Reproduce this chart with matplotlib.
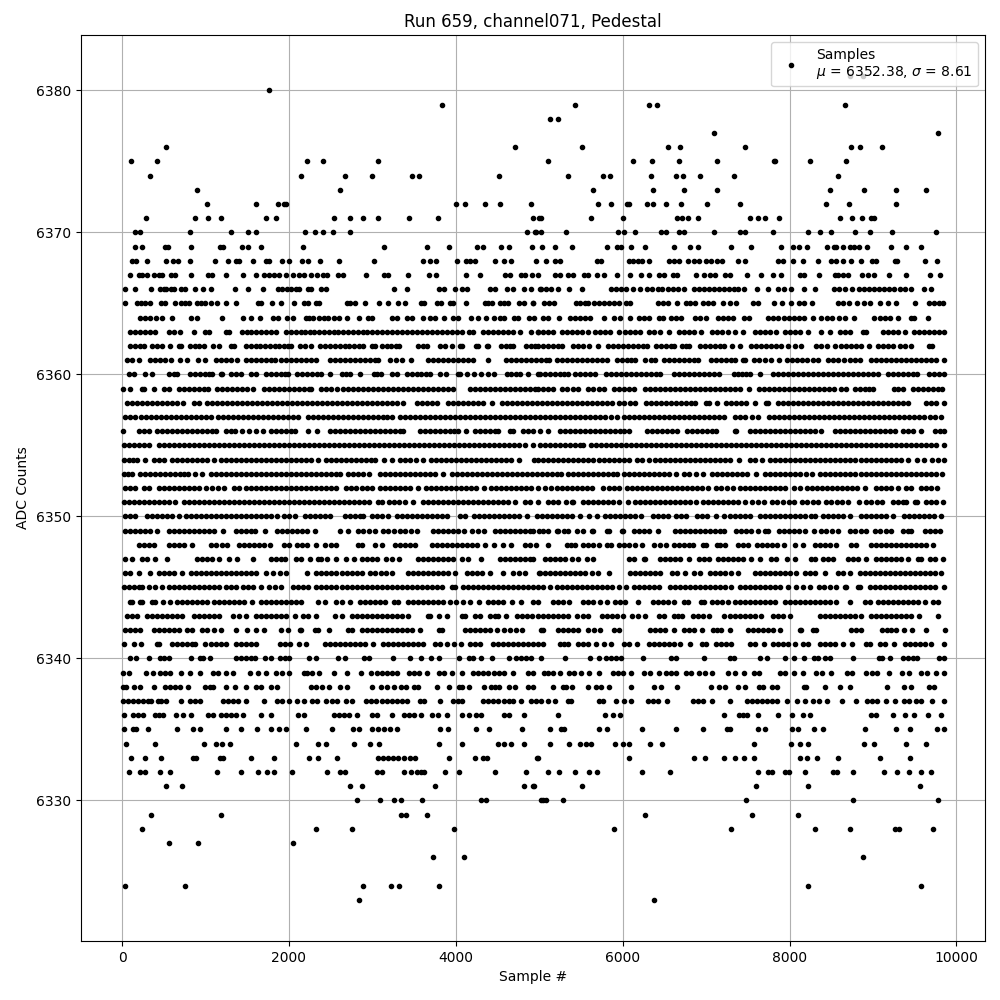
import matplotlib
matplotlib.use("Agg")
import matplotlib.pyplot as plt

# Sample numbers, in units of ten samples, one list per ADC level
r6381 = [872,888]
r6380 = [176]
r6379 = [383,543,632,641,867]
r6378 = [513,523]
r6377 = [709,978]
r6376 = [53,471,551,654,669,747,874,884,911]
r6375 = [11,42,222,241,307,511,612,635,667,713,781,783,824,868]
r6374 = [33,215,267,300,347,356,452,534,576,585,634,664,672,693,733,858]
r6373 = [90,261,564,636,674,713,849,889,927,964]
r6372 = [102,160,187,194,197,400,411,435,453,490,570,586,605,607,629,636,652,670,701,741,844,871,928]
r6371 = [29,87,103,119,172,184,254,273,289,307,344,379,492,500,502,562,600,665,671,678,690,753,762,771,787,860,875,887,897,901]
r6370 = [15,22,82,131,151,161,219,231,241,253,273,485,496,495,502,532,594,601,615,646,652,668,674,710,741,746,780,822,837,850,879,896,923,976]
r6369 = [16,24,51,55,83,117,121,144,151,167,217,314,366,392,425,433,454,464,491,503,519,539,581,593,598,610,627,661,681,690,730,754,790,804,811,821,845,853,856,864,873,877,883,893,921,940,958]
r6368 = [12,17,30,53,61,67,82,111,127,136,140,157,172,176,192,200,216,223,237,260,302,361,369,376,401,412,417,423,447,458,466,496,508,519,525,569,574,607,612,618,623,632,655,662,667,678,685,692,700,706,713,719,738,746,786,792,804,816,834,850,856,864,874,885,899,904,926,929,962,977]
r6367 = [10,20,24,30,38,44,48,59,64,83,103,108,125,145,161,170,176,182,188,197,205,212,218,227,234,241,246,259,265,292,314,319,343,368,376,412,429,459,465,478,483,491,498,519,525,534,540,554,559,569,577,593,609,622,632,644,649,660,665,688,698,705,711,723,729,749,766,780,790,812,817,835,854,858,864,870,887,894,901,919,939,968,980]
r6366 = [4,16,35,45,50,53,59,62,71,75,88,97,107,135,151,169,187,192,198,203,208,212,223,227,238,244,326,342,380,386,399,407,413,441,447,461,469,482,490,501,502,508,514,522,536,551,586,592,598,604,612,621,629,635,642,647,654,660,666,674,686,692,697,703,709,715,721,727,733,738,745,761,774,786,793,802,817,830,853,859,867,875,883,889,895,901,907,913,919,925,932,938,946,961,970]
r6365 = [3,18,23,28,33,47,51,64,71,76,80,90,95,100,106,114,125,137,163,167,180,191,206,218,223,233,236,269,273,279,291,308,319,331,339,358,362,378,382,393,397,412,435,439,443,453,458,463,476,482,492,493,506,512,518,544,549,555,559,566,572,578,584,590,595,604,609,642,648,654,665,676,681,687,696,702,708,720,729,736,756,762,781,791,802,811,817,827,858,864,871,881,889,896,908,918,927,950,967,973,979,984]
r6364 = [21,27,34,41,48,60,83,90,120,145,155,165,181,187,198,205,220,224,229,236,242,247,254,260,270,284,295,300,324,330,341,347,361,369,375,386,397,403,418,427,436,446,453,458,470,475,488,494,505,511,524,537,543,549,555,561,578,590,597,609,620,626,632,644,648,658,664,670,687,693,700,714,720,726,732,745,751,774,780,786,793,799,805,811,817,828,838,845,851,859,866,877,901,908,914,920,930,945,949,966]
r6363 = [10,16,22,28,34,40,56,62,70,86,100,104,124,128,144,150,155,161,167,173,179,185,197,202,208,214,219,225,230,236,242,248,254,259,265,271,277,283,289,294,300,306,312,318,324,330,336,342,348,354,360,366,372,378,384,390,396,402,407,416,420,433,439,445,451,457,463,469,477,490,498,499,505,511,517,527,533,539,545,551,559,567,573,579,585,595,603,609,615,621,631,637,645,655,667,673,679,685,694,707,713,719,726,735,744,758,764,770,776,784,794,800,806,812,822,838,848,860,866,873,888,892,912,918,924,930,938,949,955,961,967,973,979,985]
r6362 = [10,16,21,26,36,42,48,58,68,71,81,87,92,98,109,116,130,134,148,154,160,165,171,177,183,188,194,199,203,213,219,227,237,243,249,255,261,267,272,278,284,289,300,303,311,317,322,328,332,355,361,365,381,387,395,405,408,424,427,437,439,454,460,465,469,484,490,495,499,505,510,516,522,527,541,547,553,560,570,582,588,594,600,606,612,618,624,629,640,646,652,658,662,671,676,680,693,699,705,711,717,722,731,741,754,760,766,772,778,784,790,798,806,814,832,838,845,854,862,868,874,880,886,895,906,912,918,924,932,938,946,967,971]
r6361 = [6,12,20,33,39,45,52,59,70,78,91,100,112,118,124,130,138,148,154,160,166,172,178,183,191,197,203,209,215,221,227,233,249,255,261,267,273,279,285,291,297,303,307,321,328,335,346,367,373,379,385,391,397,403,409,415,421,438,460,466,472,478,484,490,496,502,508,512,521,527,533,539,545,551,557,563,569,575,581,593,599,605,610,615,627,634,639,649,655,661,667,673,679,685,690,706,712,718,724,730,734,744,746,757,763,770,778,787,797,803,809,815,821,828,834,846,852,858,865,872,878,884,898,904,910,916,922,928,934,940,946,952,958,964,970,976,985]
r6360 = [8,14,28,36,56,62,66,81,87,93,99,104,108,118,120,130,136,142,154,160,172,178,184,190,195,199,210,216,222,228,234,239,249,263,268,273,285,302,306,310,323,329,341,347,353,358,364,369,381,388,403,405,414,422,430,438,446,461,466,472,477,486,498,501,507,513,519,525,530,535,543,549,555,561,567,580,586,592,598,604,610,616,622,628,634,640,645,661,667,673,679,685,691,697,703,709,716,733,738,743,748,753,765,780,786,792,798,804,810,816,822,828,834,840,846,852,858,864,870,876,882,888,894,900,906,918,924,930,936,942,948,953,967,973,979,985]
r6359 = [1,9,24,26,38,50,56,68,74,80,86,92,98,103,114,120,126,132,138,144,150,157,170,176,182,188,194,200,206,212,218,224,227,238,245,251,258,265,271,277,283,289,295,301,307,313,319,325,331,337,343,349,355,361,367,373,379,385,391,397,417,423,429,435,441,447,453,459,465,471,477,483,489,495,499,505,511,517,527,533,541,547,559,565,571,577,589,595,601,607,614,627,633,639,645,651,657,663,669,675,681,687,693,699,705,711,717,723,729,735,741,751,763,769,775,781,787,793,799,805,811,817,823,829,835,841,847,853,862,868,878,884,890,895,900,925,930,936,948,954,960,966,972,978,983]
r6358 = [6,12,18,24,30,36,42,48,54,60,66,73,86,92,102,108,114,120,126,132,138,144,150,156,162,168,174,180,186,192,198,204,210,216,222,228,234,240,246,252,258,264,270,276,282,288,294,300,306,312,318,324,330,337,353,359,365,371,377,391,397,403,409,415,421,427,433,443,455,461,467,473,479,485,491,497,503,509,515,521,527,533,539,545,551,557,563,569,575,581,587,595,602,609,615,628,634,640,646,652,658,664,670,676,682,687,700,704,713,724,730,736,742,748,758,772,774,786,792,798,804,810,816,822,828,834,840,846,852,858,864,870,876,882,888,894,900,906,912,918,924,930,936,942,964,970,976,985]
r6357 = [4,10,16,23,29,35,41,47,53,59,65,71,77,83,89,95,101,106,115,121,127,133,139,145,151,157,163,169,175,181,187,193,199,205,211,223,229,235,241,247,253,259,265,271,277,283,289,295,301,307,313,318,323,333,339,345,351,357,363,369,375,381,387,393,399,405,411,417,423,429,435,441,447,453,459,465,471,477,483,489,495,501,507,513,519,525,531,537,543,549,555,561,567,573,579,586,593,601,607,613,619,625,631,637,643,649,655,661,667,673,679,685,691,697,703,709,716,722,735,741,747,755,762,775,781,787,793,799,805,811,817,823,829,835,841,847,853,859,865,871,877,883,889,895,901,907,913,919,925,931,937,943,949,955,961,968,974,982]
r6356 = [1,20,26,32,42,48,54,60,66,72,78,84,90,96,102,108,112,124,130,135,144,152,161,169,178,184,190,196,202,207,223,234,249,255,261,267,273,279,285,291,297,303,309,315,321,327,333,337,357,363,369,375,381,387,393,398,403,412,423,429,435,441,447,451,465,469,481,487,493,501,510,525,531,537,543,549,555,561,567,573,579,585,591,597,602,607,629,635,641,647,653,659,665,677,683,689,695,701,707,712,734,736,752,758,764,770,776,782,788,794,800,806,812,818,824,830,838,854,860,866,872,878,884,890,896,902,908,914,920,926,936,942,948,958,974,980,985]
r6355 = [2,8,14,20,26,32,44,50,56,62,68,74,80,86,92,98,104,110,116,122,128,134,140,146,152,158,164,170,176,182,188,194,200,206,212,218,224,230,236,242,248,254,260,266,272,278,284,290,296,302,308,314,320,326,332,338,344,350,356,362,368,374,380,386,392,398,404,410,416,422,428,434,440,446,452,458,464,470,476,483,492,501,507,513,519,525,531,537,543,549,553,562,568,574,580,586,592,598,604,610,616,622,628,634,640,646,652,658,664,670,676,682,688,694,700,706,712,718,724,730,736,742,748,754,760,766,772,778,784,790,796,802,808,814,820,826,832,838,844,850,856,862,868,874,880,886,892,898,904,910,916,922,928,934,940,946,952,958,964,970,976,985]
r6354 = [2,8,13,18,27,38,44,50,60,66,72,78,84,90,96,102,110,118,124,130,136,142,148,154,160,166,172,178,184,190,196,202,208,214,220,226,235,244,250,256,262,268,274,280,286,292,298,303,314,323,333,339,345,352,361,370,376,382,388,394,400,406,412,418,424,430,436,442,448,454,460,466,476,494,499,505,511,517,523,529,535,541,547,553,559,565,571,577,583,589,595,601,607,617,623,632,639,645,651,657,663,669,675,681,687,693,699,705,711,717,723,729,739,752,759,767,777,783,789,795,801,807,813,819,825,831,837,843,849,855,861,867,873,879,885,891,897,903,909,915,921,927,933,942,953,961,971,978,985]
r6353 = [2,7,12,21,27,33,39,45,51,57,63,69,74,79,88,96,106,112,118,124,130,136,142,148,154,160,166,172,178,184,190,196,202,208,214,220,226,232,238,244,250,256,261,271,277,283,289,296,309,315,321,327,333,339,345,351,357,363,369,375,385,395,401,407,413,419,425,431,437,443,449,455,461,467,473,479,485,491,497,503,509,515,521,526,534,540,546,552,558,564,570,576,582,588,593,602,608,614,620,626,632,638,644,650,656,664,674,680,688,696,707,713,719,725,731,737,743,749,760,770,776,782,788,794,800,806,812,820,827,837,843,849,855,861,867,873,879,885,891,897,903,909,915,921,927,933,939,945,951,957,963,969,975,983]
r6352 = [4,10,16,26,32,44,50,56,62,68,74,80,86,92,101,108,115,122,134,140,148,154,160,166,172,178,184,190,196,202,208,214,220,226,232,238,244,250,257,268,274,280,287,293,300,309,315,321,327,333,339,345,355,364,370,376,382,388,394,400,406,412,418,424,434,442,448,454,460,466,472,478,484,490,499,507,514,521,527,533,539,545,551,557,563,576,583,590,596,605,611,617,623,629,635,641,647,653,659,665,671,677,683,689,695,702,712,718,725,732,741,747,753,759,765,771,777,783,789,795,805,812,821,827,833,839,845,851,857,863,869,875,881,890,903,909,915,922,930,939,946,957,963,970,977]
r6351 = [2,8,14,20,26,32,38,44,50,56,64,74,80,86,92,98,104,110,116,122,128,134,140,146,152,158,164,170,176,182,188,194,200,206,212,218,224,230,236,242,248,254,260,266,272,278,284,290,296,307,312,320,326,332,339,349,361,367,373,379,385,391,397,403,409,415,421,427,433,439,445,451,457,463,471,483,489,499,511,517,523,532,539,541,552,558,564,570,576,582,588,595,606,615,621,627,633,639,645,651,657,663,669,675,681,688,696,702,708,714,720,726,732,738,746,755,762,769,779,785,792,799,805,815,821,828,834,844,850,857,863,870,883,892,898,905,911,924,930,936,940,950,953,963,969,975,984]
r6350 = [4,10,16,30,36,42,48,54,60,68,77,83,89,95,101,107,113,119,125,131,137,143,149,155,161,167,173,179,186,194,200,207,219,225,231,237,243,249,267,273,279,285,289,299,305,312,319,329,335,341,347,353,359,365,371,377,383,390,405,411,422,428,434,440,446,452,458,464,470,476,485,497,503,509,515,521,527,533,539,549,560,569,579,585,591,597,603,609,615,622,636,642,648,654,664,670,676,689,695,701,712,722,728,734,740,746,753,764,770,776,782,788,794,800,806,812,818,826,831,840,846,852,858,864,873,886,892,898,904,910,916,924,937,943,949,955,961,967,973,982]
r6349 = [4,10,16,22,28,34,42,56,62,68,74,80,86,92,98,104,110,121,136,142,148,154,159,171,186,192,198,204,210,216,222,231,261,271,283,289,296,303,313,319,326,333,339,346,354,373,379,385,391,397,403,410,419,426,434,447,453,459,465,471,477,483,489,492,500,505,511,521,523,530,534,545,553,563,565,581,583,599,600,613,619,625,632,642,663,669,675,681,687,693,699,705,711,717,722,736,742,748,754,762,770,774,787,793,799,805,811,818,829,838,844,851,858,873,879,885,891,902,908,915,922,936,942,946,962,968,974,980]
r6348 = [20,26,32,38,56,62,68,74,84,106,112,120,126,140,146,152,158,164,170,177,194,200,210,216,222,233,243,250,257,283,287,303,311,327,333,339,345,351,371,377,383,389,395,401,407,413,419,425,435,446,456,466,483,489,496,511,533,538,543,553,559,565,571,581,586,596,602,608,615,623,637,645,652,661,667,673,679,684,696,700,713,717,723,738,744,750,761,767,773,779,785,793,807,816,830,836,842,849,856,874,880,898,904,910,916,922,928,934,940,946,952,958,964,972]
r6347 = [4,12,24,30,39,54,90,96,102,108,116,128,138,157,178,184,190,195,209,215,225,235,239,246,256,268,278,287,293,299,305,316,324,332,355,361,367,373,379,385,391,397,408,415,430,453,459,465,471,477,483,489,492,507,513,519,525,531,539,546,557,565,607,613,625,627,645,651,657,663,669,679,691,698,704,714,720,726,732,738,744,754,764,778,784,797,807,826,830,840,846,852,870,876,882,892,904,910,916,922,928,934,942,954,958,968,974,984]
r6346 = [4,10,20,34,44,50,56,62,72,83,89,95,101,107,113,119,125,131,137,143,149,155,161,172,181,189,197,222,233,239,245,251,257,263,269,275,281,287,297,303,310,316,323,343,349,355,361,367,373,379,385,391,399,413,419,425,431,441,457,469,476,483,500,501,507,513,519,525,531,537,543,549,555,563,570,584,609,615,621,627,633,639,645,659,665,675,685,693,705,711,717,723,730,738,758,764,770,776,782,788,794,800,808,818,824,830,842,858,864,872,884,890,896,902,908,914,920,926,932,938,944,950,956,962,968,974,982]
r6345 = [2,8,14,20,24,32,40,48,56,62,68,74,80,86,92,98,104,110,116,124,130,136,145,151,157,167,176,183,191,205,211,217,223,233,239,245,251,257,263,269,275,281,287,293,299,305,311,317,323,329,335,341,347,353,359,365,371,377,383,395,399,409,415,421,427,433,439,445,451,457,463,469,475,481,487,493,499,505,513,521,527,533,539,545,551,557,563,569,575,581,587,595,604,613,619,625,631,637,644,657,663,669,675,681,687,693,699,705,711,717,723,730,740,746,752,758,764,770,776,782,788,798,808,816,824,835,841,848,856,866,868,882,884,896,902,908,914,920,926,932,938,944,950,956,962,968,974,985]
r6344 = [10,12,22,24,36,40,49,57,66,72,78,84,90,96,102,110,116,122,128,134,140,146,156,166,172,178,184,190,196,202,208,215,235,243,257,263,273,285,291,297,303,309,315,326,331,343,349,355,361,367,373,379,385,393,400,409,417,428,439,445,451,457,467,478,492,499,516,522,529,536,552,558,565,573,581,591,597,603,618,636,642,648,654,661,673,678,694,698,707,713,719,726,735,741,747,753,759,765,771,777,782,794,800,806,812,818,824,830,836,842,848,856,872,890,896,906,912,918,924,930,936,942,948,954,962,972,978]
r6343 = [6,12,18,30,36,42,48,54,60,66,72,86,92,98,104,110,116,133,140,149,160,166,172,178,184,190,196,207,217,223,232,255,263,275,281,287,293,299,305,311,317,323,329,335,343,367,369,380,390,407,411,423,429,441,447,451,460,473,479,485,491,499,505,511,517,523,529,535,545,552,559,575,581,587,593,600,611,618,627,643,649,661,666,671,684,690,696,704,722,728,734,740,746,752,758,766,780,786,792,800,836,842,848,854,860,866,872,879,886,898,904,910,916,922,928,934,940,946,955,978]
r6342 = [4,10,16,22,38,44,50,56,62,68,78,84,96,102,110,119,137,150,161,170,191,199,213,215,231,235,248,271,275,287,293,299,305,311,317,323,329,335,341,347,357,380,383,411,417,423,429,435,441,449,458,465,472,479,502,505,523,529,535,541,547,559,566,573,589,595,633,639,645,651,662,673,679,686,695,708,713,718,729,750,756,762,768,774,780,788,812,814,828,832,874,880,886,911,917,922,928,937,947,963,986]
r6341 = [2,14,23,42,44,60,66,72,78,84,88,100,106,112,118,124,136,142,148,154,160,189,195,201,212,220,243,249,255,261,267,273,279,285,291,301,313,319,325,331,337,343,349,355,361,375,381,389,398,406,417,423,429,445,451,457,463,469,475,481,487,493,499,505,525,530,535,547,553,559,568,578,586,601,607,617,631,637,643,649,655,661,669,681,695,700,712,718,724,730,752,758,769,780,786,792,798,806,816,822,836,842,848,854,864,875,892,896,908,914,925,938,944,950,956,962,970,985]
r6340 = [9,17,32,45,50,56,83,93,97,105,137,143,149,155,159,171,178,189,195,200,224,232,259,267,290,296,325,345,358,370,380,404,416,420,430,443,464,472,478,484,490,502,531,561,572,580,586,592,598,624,658,664,697,729,733,765,773,795,805,817,829,834,843,849,876,907,911,920,936,942,948,953,979,985]
r6339 = [1,8,29,37,45,51,58,71,82,94,109,115,125,133,153,163,173,184,192,200,218,222,228,236,254,270,286,298,306,312,318,324,330,344,350,356,366,380,386,396,408,420,426,432,438,446,452,458,468,486,492,506,511,516,525,536,542,550,560,571,588,594,600,610,626,633,644,652,658,664,676,682,691,699,707,726,735,745,757,763,789,795,805,816,832,839,850,869,875,891,899,905,919,935,943,957,965,975,985]
r6338 = [1,5,14,21,38,51,57,63,69,79,99,105,109,125,135,149,161,167,178,186,226,232,240,248,261,269,300,310,318,326,334,340,350,355,377,392,404,408,416,434,442,447,452,464,471,486,492,517,528,532,539,559,568,574,583,610,638,646,665,706,715,723,738,747,763,768,779,785,817,820,842,860,873,917,937,945,967,973]
r6337 = [1,7,13,19,25,31,35,43,47,53,71,81,87,93,121,127,133,139,149,170,186,192,200,210,218,228,234,244,252,258,268,276,292,298,304,312,318,324,330,336,342,357,362,381,397,403,408,432,438,444,450,458,464,469,478,490,496,502,510,519,534,538,572,576,592,602,610,630,636,642,653,684,690,696,707,729,749,755,761,767,773,779,785,797,809,818,828,835,845,863,880,893,899,905,915,926,937,943,951,957,971,985]
r6336 = [2,13,19,25,39,44,49,65,73,83,103,109,119,125,131,137,145,167,178,211,218,254,260,266,272,281,299,306,324,338,344,350,358,372,379,390,408,416,424,430,458,464,482,523,579,588,597,721,739,744,749,762,786,803,816,824,897,903,924,938,949,966,982]
r6335 = [2,13,17,31,66,85,93,125,143,162,179,188,197,220,252,277,284,300,307,314,321,330,381,391,424,440,479,513,526,530,571,581,623,664,696,725,729,762,771,803,810,829,840,890,928,944,977,985]
r6334 = [5,40,98,113,120,129,208,235,245,278,297,308,380,407,451,458,466,482,513,536,549,556,562,591,600,608,633,647,757,802,812,822,889,901,940,964]
r6333 = [11,27,47,85,89,117,121,154,182,224,235,258,307,313,319,325,331,338,345,351,392,423,432,437,497,498,608,686,699,721,735,745,757,813,821,833,858,908,944]
r6332 = [8,22,28,45,57,114,143,163,174,182,204,246,261,267,305,312,338,346,354,358,362,387,404,447,484,510,524,543,560,569,623,657,762,774,779,794,799,818,852,857,876,913,929,943,958,969]
r6331 = [53,72,273,287,375,482,493,494,551,760,822,956]
r6330 = [282,309,326,334,360,430,436,502,504,508,528,748,876,978]
r6329 = [35,119,334,340,366,627,755,810]
r6328 = [24,232,276,398,589,730,830,873,926,931,972]
r6327 = [56,91,205]
r6326 = [373,410,888]
r6324 = [4,75,289,322,332,380,822,958]
r6323 = [284,638]

levels = {6381:r6381,6380:r6380,6379:r6379,6378:r6378,6377:r6377,6376:r6376,6375:r6375,6374:r6374,
          6373:r6373,6372:r6372,6371:r6371,6370:r6370,6369:r6369,6368:r6368,6367:r6367,6366:r6366,
          6365:r6365,6364:r6364,6363:r6363,6362:r6362,6361:r6361,6360:r6360,6359:r6359,6358:r6358,
          6357:r6357,6356:r6356,6355:r6355,6354:r6354,6353:r6353,6352:r6352,6351:r6351,6350:r6350,
          6349:r6349,6348:r6348,6347:r6347,6346:r6346,6345:r6345,6344:r6344,6343:r6343,6342:r6342,
          6341:r6341,6340:r6340,6339:r6339,6338:r6338,6337:r6337,6336:r6336,6335:r6335,6334:r6334,
          6333:r6333,6332:r6332,6331:r6331,6330:r6330,6329:r6329,6328:r6328,6327:r6327,6326:r6326,
          6324:r6324,6323:r6323}

title = "Run 659, channel071, Pedestal"
legend_label = "Samples\n$\\mu$ = 6352.38, $\\sigma$ = 8.61"

xs, ys = [], []
for level, tens in levels.items():
    for t in tens:
        xs.append(t * 10)
        ys.append(level)

fig, ax = plt.subplots(figsize=(10, 10), dpi=100)
ax.plot(xs, ys, "k.", linestyle="none", label=legend_label)
ax.set_xlim(-492, 10342)
ax.set_ylim(6320.1, 6383.9)
ax.set_title(title)
ax.set_xlabel("Sample #")
ax.set_ylabel("ADC Counts")
ax.grid(True)
ax.legend(loc="upper right")
fig.subplots_adjust(left=0.081, right=0.985, top=0.965, bottom=0.059)
fig.savefig("out.png")
